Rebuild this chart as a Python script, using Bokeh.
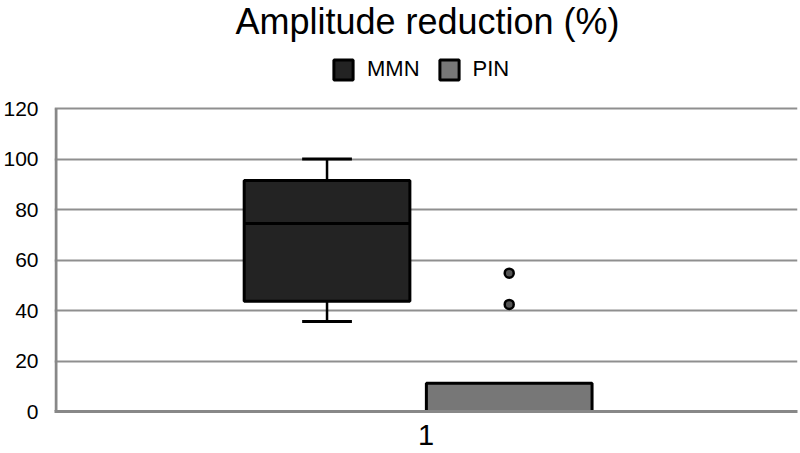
from bokeh.plotting import figure
from bokeh.models import Range1d, FixedTicker, Legend, LegendItem, Label
from bokeh.embed import file_html
from bokeh.resources import INLINE

# ---- data ----
title_text = "Amplitude reduction (%)"
category_labels = ["1"]
series = ["MMN", "PIN"]
mmn_q1, mmn_median, mmn_q3 = 43.7, 74.5, 91.5
mmn_low, mmn_high = 35.6, 100.0
pin_q1, pin_median, pin_q3 = 0.0, 0.0, 11.2
pin_outliers = [54.8, 42.4]
y_ticks = [0, 20, 40, 60, 80, 100, 120]

# ---- style / layout ----
FONT = "Liberation Sans"
MMN_FILL = "#232323"
PIN_FILL = "#777777"
GRID = "#8f8f8f"
AXIS = "#888888"
cat_x = 0.5
mmn_center, pin_center, box_w = 0.3668, 0.612, 0.223
cap_w = 0.067
# frame spans the full canvas height above the x axis; the value axis tops out at 120
y_top = 120 + 108 / 2.525

p = figure(width=800, height=453, output_backend="svg", toolbar_location=None,
           x_range=Range1d(0, 1), y_range=Range1d(0, y_top),
           min_border_left=50, min_border_right=3, min_border_top=0,
           min_border_bottom=42)
p.outline_line_color = None
p.background_fill_color = "white"
p.xgrid.grid_line_color = None
p.ygrid.grid_line_color = GRID
p.ygrid.grid_line_width = 2
p.ygrid.ticker = FixedTicker(ticks=y_ticks)

# y axis (line drawn separately so it stops at 120)
p.yaxis.ticker = FixedTicker(ticks=y_ticks)
p.yaxis.axis_line_color = None
p.yaxis.major_tick_line_color = None
p.yaxis.major_tick_out = 0
p.yaxis.major_tick_in = 0
p.yaxis.minor_tick_line_color = None
p.yaxis.major_label_text_font = FONT
p.yaxis.major_label_text_font_size = "21px"
p.yaxis.major_label_text_color = "black"
p.yaxis.major_label_standoff = 16
p.segment(x0=[0.002], y0=[y_ticks[0]], x1=[0.002], y1=[y_ticks[-1]],
          line_color=AXIS, line_width=3)

# x axis
p.xaxis.ticker = FixedTicker(ticks=[cat_x])
p.xaxis.major_label_overrides = {cat_x: category_labels[0]}
p.xaxis.axis_line_color = AXIS
p.xaxis.axis_line_width = 3
p.xaxis.major_tick_line_color = None
p.xaxis.major_tick_out = 0
p.xaxis.major_tick_in = 0
p.xaxis.minor_tick_line_color = None
p.xaxis.major_label_text_font = FONT
p.xaxis.major_label_text_font_size = "29px"
p.xaxis.major_label_text_color = "black"
p.xaxis.major_label_standoff = 13

# MMN whiskers
p.segment(x0=[mmn_center, mmn_center], y0=[mmn_q3, mmn_q1],
          x1=[mmn_center, mmn_center], y1=[mmn_high, mmn_low],
          line_color="black", line_width=2.5)
p.segment(x0=[mmn_center - cap_w / 2] * 2, y0=[mmn_high, mmn_low],
          x1=[mmn_center + cap_w / 2] * 2, y1=[mmn_high, mmn_low],
          line_color="black", line_width=3)

# boxes
mmn_box = p.quad(left=[mmn_center - box_w / 2], right=[mmn_center + box_w / 2],
                 bottom=[mmn_q1], top=[mmn_q3], fill_color=MMN_FILL,
                 line_color="black", line_width=3)
p.segment(x0=[mmn_center - box_w / 2], y0=[mmn_median],
          x1=[mmn_center + box_w / 2], y1=[mmn_median],
          line_color="black", line_width=3)
pin_box = p.quad(left=[pin_center - box_w / 2], right=[pin_center + box_w / 2],
                 bottom=[pin_q1], top=[pin_q3], fill_color=PIN_FILL,
                 line_color="black", line_width=3)

# PIN outliers
p.scatter(x=[pin_center] * len(pin_outliers), y=pin_outliers, size=9,
          fill_color="#555555", line_color="black", line_width=2.5)

# title
p.add_layout(Label(x=0.502, y=154.6, text=title_text, text_align="center",
                   text_baseline="alphabetic", text_font=FONT,
                   text_font_size="36px", text_color="black"))

legend = Legend(items=[LegendItem(label=series[0], renderers=[mmn_box]),
                       LegendItem(label=series[1], renderers=[pin_box])],
                location=(277, 329), orientation="horizontal",
                glyph_width=24, glyph_height=25, label_standoff=12, spacing=17,
                padding=0, margin=0, border_line_color=None,
                background_fill_alpha=0, label_text_font=FONT,
                label_text_font_size="22px", label_text_color="black")
p.add_layout(legend, "center")

open("out.html", "w").write(file_html(p, INLINE))
